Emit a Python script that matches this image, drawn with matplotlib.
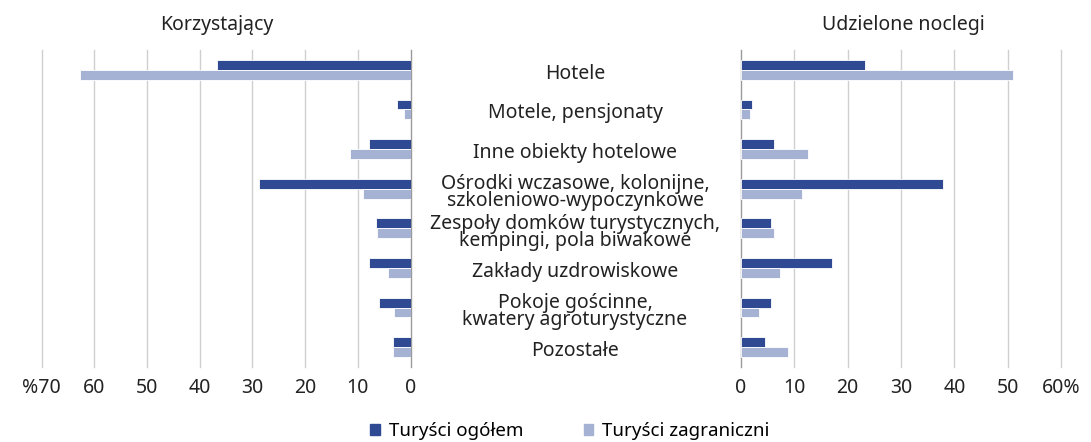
import matplotlib
matplotlib.use('Agg')
from matplotlib import pyplot as plt
from matplotlib import transforms
from matplotlib.patches import Patch

plt.rcParams['font.family'] = ['Noto Sans', 'DejaVu Sans']

categories = [
    'Hotele',
    'Motele, pensjonaty',
    'Inne obiekty hotelowe',
    'Ośrodki wczasowe, kolonijne,\nszkoleniowo-wypoczynkowe',
    'Zespoły domków turystycznych,\nkempingi, pola biwakowe',
    'Zakłady uzdrowiskowe',
    'Pokoje gościnne,\nkwatery agroturystyczne',
    'Pozostałe',
]

# Korzystający (%)
users_total = [36.8, 2.5, 7.8, 28.8, 6.5, 7.9, 6.0, 3.3]
users_foreign = [62.8, 1.2, 11.4, 9.0, 6.3, 4.3, 3.2, 3.3]

# Udzielone noclegi (%)
nights_total = [23.2, 2.0, 6.2, 37.9, 5.6, 17.0, 5.6, 4.5]
nights_foreign = [51.0, 1.6, 12.5, 11.5, 6.2, 7.4, 3.4, 8.9]

left_ticks = [70, 60, 50, 40, 30, 20, 10, 0]
left_labels = ['%70', '60', '50', '40', '30', '20', '10', '0']
right_ticks = [0, 10, 20, 30, 40, 50, 60]
right_labels = ['0', '10', '20', '30', '40', '50', '60%']

dark = '#2F4A93'
light = '#A6B2D3'
text_col = '#222222'
fs = 14
W, H = 1091, 442

fig = plt.figure(figsize=(W / 100, H / 100), dpi=100)

top, bottom = 50, 367
ay = (H - bottom) / H
ah = (bottom - top) / H
axL = fig.add_axes([41.7 / W, ay, (410.5 - 41.7) / W, ah])
axR = fig.add_axes([741 / W, ay, (1061 - 741) / W, ah])

pos = list(range(len(categories)))
bh = 0.25

for ax, tot, forg, ticks, labels in [
    (axL, users_total, users_foreign, left_ticks, left_labels),
    (axR, nights_total, nights_foreign, right_ticks, right_labels),
]:
    ax.barh([p - bh / 2 for p in pos], tot, height=bh, color=dark,
            edgecolor='white', linewidth=0.6, zorder=3)
    ax.barh([p + bh / 2 for p in pos], forg, height=bh, color=light,
            edgecolor='white', linewidth=0.6, zorder=3)
    ax.set_ylim(len(categories) - 0.5, -0.5)
    ax.set_xticks(ticks)
    ax.set_xticklabels(labels, fontsize=fs, color=text_col)
    ax.set_yticks([])
    ax.tick_params(axis='x', length=0, pad=8)
    for s in ax.spines.values():
        s.set_visible(False)
    for t in ticks:
        c = '#9a9a9a' if t == 0 else '#cfcfcf'
        ax.axvline(t, color=c, linewidth=1, zorder=1, clip_on=False)

axL.set_xlim(70, 0)
axR.set_xlim(0, 60)

# category labels between the panels, nudged down a few pixels
tr = transforms.blended_transform_factory(fig.transFigure, axL.transData)
tr = tr + transforms.ScaledTranslation(0, -4 / 100, fig.dpi_scale_trans)
for p, name in zip(pos, categories):
    fig.text(575 / W, p, name, transform=tr, ha='center', va='center',
             fontsize=fs, color=text_col, linespacing=0.8)

fig.text(217 / W, 1 - 25 / H, 'Korzystający', ha='center', va='center',
         fontsize=fs, color=text_col)
fig.text(903 / W, 1 - 25 / H, 'Udzielone noclegi', ha='center', va='center',
         fontsize=fs, color=text_col)

handles = [Patch(color=dark, label='Turyści ogółem'),
           Patch(color=light, label='Turyści zagraniczni')]
fig.legend(handles=handles, loc='center', bbox_to_anchor=(570 / W, 1 - 431 / H),
           ncol=2, frameon=False, fontsize=13.5, handlelength=0.5,
           handleheight=0.5, handletextpad=0.5, columnspacing=3.2)

fig.savefig('out.png', dpi=100)
